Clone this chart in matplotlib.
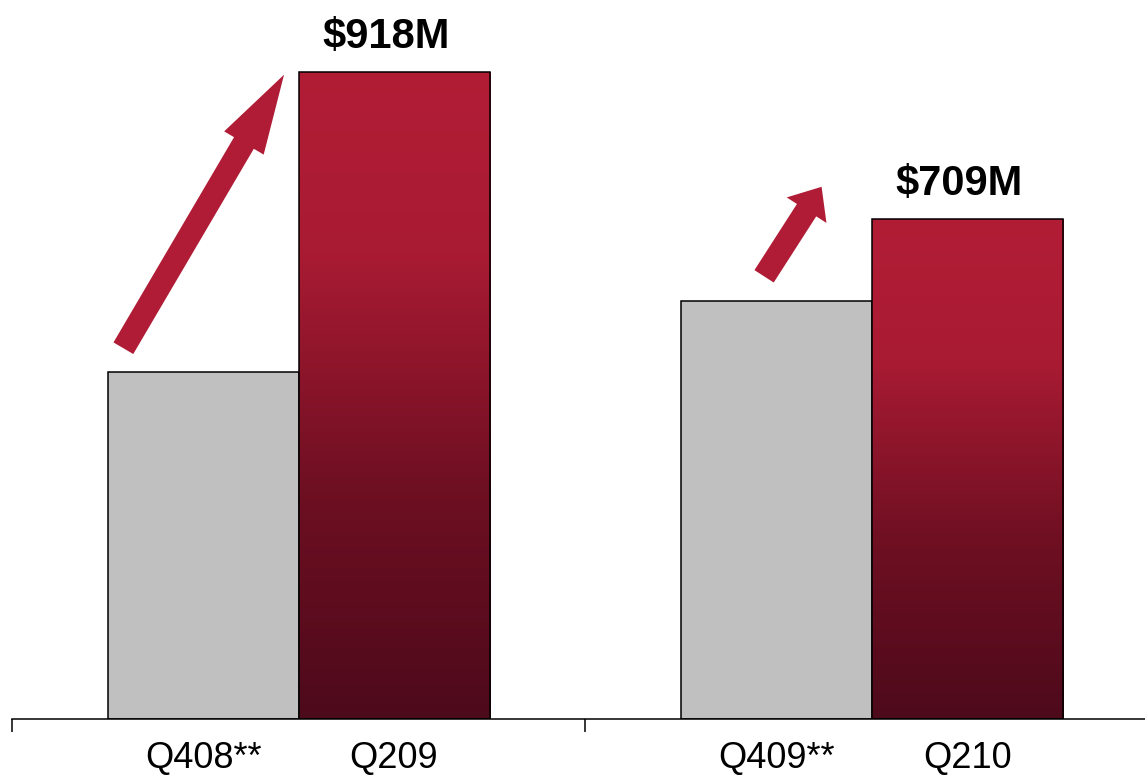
import matplotlib.pyplot as plt
import numpy as np
from matplotlib.colors import LinearSegmentedColormap

# Quarterly revenue, prior quarter vs. comparison quarter ($M)
groups = [0, 1]
prior_labels = ['Q408**', 'Q409**']
current_labels = ['Q209', 'Q210']
prior_values = [492, 593]
current_values = [918, 709]
value_labels = ['$918M', '$709M']

plt.rcParams['font.family'] = ['Liberation Sans', 'DejaVu Sans']

GRAY = '#c0c0c0'
RED = '#b01c35'
red_fade = LinearSegmentedColormap.from_list(
    'red_fade', [(0.0, '#4d0a1b'), (0.35, '#6e0f22'), (0.72, '#a91b33'), (1.0, '#b21d36')])

fig = plt.figure(figsize=(11.45, 7.78), dpi=100)
ax = fig.add_axes([12 / 1145, 59 / 778, 1133 / 1145, 719 / 778])

width = 1 / 3
x = np.array(groups, dtype=float)
ax.bar(x - width / 2, prior_values, width, color=GRAY, edgecolor='black', linewidth=1.1, zorder=2)
red_bars = ax.bar(x + width / 2, current_values, width, color='none', edgecolor='black',
                  linewidth=1.1, zorder=3)

# vertical gradient fill for each red bar
grad = np.linspace(0, 1, 256).reshape(-1, 1)
for rect in red_bars:
    x0, w, h = rect.get_x(), rect.get_width(), rect.get_height()
    im = ax.imshow(grad, cmap=red_fade, origin='lower', aspect='auto',
                   extent=[x0, x0 + w, 0, h], zorder=2)
    im.set_clip_path(rect)

for xi, val, lab in zip(x + width / 2, current_values, value_labels):
    ax.annotate(lab, (xi, val), xytext=(-6, 11), textcoords='offset points',
                ha='center', va='bottom', fontsize=30, fontweight='bold')

# growth arrows from the prior-quarter bar toward the current-quarter bar
arrow_specs = [
    # (start x, start y, end x, end y, head length, head width)
    (x[0] - width / 2 - 0.139, prior_values[0] + 34, x[0] + width / 2 - 0.192, current_values[0] - 4, 5.7, 3.3),
    (x[1] - width / 2 - 0.021, prior_values[1] + 35, x[1] + width / 2 - 0.254, current_values[1] + 46, 2.0, 3.4),
]
for sx, sy, ex, ey, hl, hw in arrow_specs:
    ax.annotate('', xy=(ex, ey), xytext=(sx, sy),
                arrowprops=dict(arrowstyle=f'simple,head_length={hl},head_width={hw},tail_width=1.65',
                                mutation_scale=10, color=RED, shrinkA=0, shrinkB=0, lw=0),
                zorder=4)

for side in ['top', 'right', 'left']:
    ax.spines[side].set_visible(False)
ax.spines['bottom'].set_linewidth(1.1)
ax.set_yticks([])

ax.set_xticks([-0.5, 0.5])
ax.set_xticklabels([])
ax.tick_params(axis='x', which='major', length=9, width=1.1, direction='out')
ax.set_xticks(np.concatenate([x - width / 2, x + width / 2]), minor=True)
ax.set_xticklabels(prior_labels + current_labels, minor=True)
ax.tick_params(axis='x', which='minor', length=0, pad=16, labelsize=26)

ax.set_xlim(-0.5, 1.477)
ax.set_ylim(0, 1020)

fig.savefig('out.png', dpi=100)
